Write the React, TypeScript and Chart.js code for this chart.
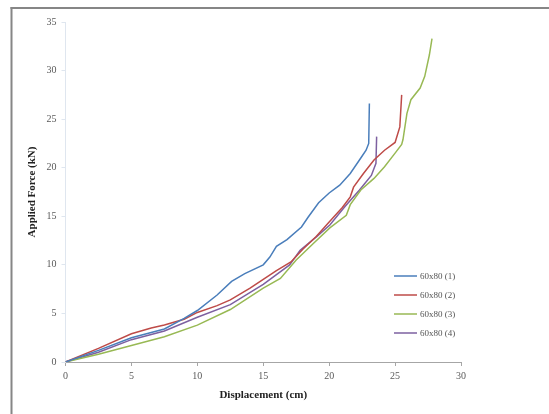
import React, { useEffect, useRef } from "react";
import { Chart, registerables } from "chart.js";

Chart.register(...registerables);

const seriesLabels = ["60x80 (1)", "60x80 (2)", "60x80 (3)", "60x80 (4)"];
const seriesColors = ["#4a7ebb", "#be4b48", "#98b954", "#7d60a0"];

const s1Disp = [0, 2.5, 5, 7.5, 9, 10, 11.5, 12.6, 13.6, 15, 15.5, 16, 16.8, 17.9, 18.4, 19.2, 20, 20.8, 21.6, 22.4, 22.8, 23.0, 23.05];
const s1Force = [0, 1.2, 2.5, 3.4, 4.5, 5.3, 6.9, 8.3, 9.1, 10.0, 10.8, 11.9, 12.6, 13.9, 14.9, 16.4, 17.4, 18.2, 19.4, 21.0, 21.8, 22.5, 26.6];

const s2Disp = [0, 2.5, 5, 6.5, 7.5, 9, 10, 11.5, 12.5, 14, 15, 16, 17.1, 18, 19, 20, 21, 21.6, 21.85, 22.6, 23.4, 24.2, 25.0, 25.36, 25.5];
const s2Force = [0, 1.4, 2.9, 3.5, 3.8, 4.4, 5.1, 5.8, 6.4, 7.6, 8.5, 9.4, 10.3, 11.6, 12.9, 14.4, 15.9, 17.0, 18.0, 19.4, 20.8, 21.8, 22.6, 24.2, 27.5];

const s3Disp = [0, 2.5, 5, 7.5, 10, 12.5, 15, 16.3, 17.5, 18.8, 20.05, 21.3, 21.6, 22.4, 23.4, 24.2, 25.0, 25.5, 25.6, 25.9, 26.2, 26.9, 27.25, 27.6, 27.8];
const s3Force = [0, 0.8, 1.7, 2.6, 3.8, 5.4, 7.6, 8.6, 10.5, 12.2, 13.8, 15.1, 16.2, 17.7, 18.9, 20.1, 21.5, 22.4, 22.9, 25.6, 27.0, 28.2, 29.4, 31.6, 33.3];

const s4Disp = [0, 2.5, 5, 7.5, 10, 12.5, 15, 17, 17.8, 19.05, 20.05, 21.2, 22.3, 23.2, 23.55, 23.6];
const s4Force = [0, 1.0, 2.3, 3.2, 4.6, 5.9, 8.0, 10.0, 11.5, 12.9, 14.1, 16.0, 17.7, 19.2, 20.45, 23.2];

const xTicksMax = 30;
const yTicksMax = 35;

const allDisp = [s1Disp, s2Disp, s3Disp, s4Disp];
const allForce = [s1Force, s2Force, s3Force, s4Force];

const framePlugin = {
  id: "frame",
  beforeDraw(chart: any) {
    const ctx = chart.ctx;
    ctx.save();
    ctx.fillStyle = "#ffffff";
    ctx.fillRect(0, 0, chart.width, chart.height);
    ctx.fillStyle = "#868686";
    ctx.fillRect(10.5, 7, 2, chart.height);
    ctx.fillRect(10.5, 7, chart.width, 2);
    ctx.restore();
  },
};

const legendPlugin = {
  id: "insideLegend",
  afterDraw(chart: any) {
    const ctx = chart.ctx;
    const area = chart.chartArea;
    const x0 = area.right - 67;
    const y0 = area.top + 254;
    const rowH = 19;
    ctx.save();
    ctx.font = "9px 'Liberation Serif', 'Times New Roman', serif";
    ctx.textBaseline = "middle";
    ctx.textAlign = "left";
    chart.data.datasets.forEach((ds: any, i: number) => {
      const y = y0 + i * rowH;
      ctx.strokeStyle = ds.borderColor;
      ctx.lineWidth = 1.5;
      ctx.beginPath();
      ctx.moveTo(x0, y);
      ctx.lineTo(x0 + 23, y);
      ctx.stroke();
      ctx.fillStyle = "#555555";
      ctx.fillText(ds.label, x0 + 26, y + 0.5);
    });
    ctx.restore();
  },
};

export default function App() {
  const ref = useRef<HTMLCanvasElement>(null);
  useEffect(() => {
    if (!ref.current) return;
    const datasets = seriesLabels.map((label, i) => ({
      label,
      data: allDisp[i].map((x, j) => ({ x, y: allForce[i][j] })),
      borderColor: seriesColors[i],
      backgroundColor: seriesColors[i],
      borderWidth: 1.5,
      pointRadius: 0,
      showLine: true,
      tension: 0,
      fill: false,
    }));
    const tickFont = { family: "'Liberation Serif', 'Times New Roman', serif", size: 10 };
    const titleFont = { family: "'Liberation Serif', 'Times New Roman', serif", size: 11, weight: "bold" as const };
    const chart = new Chart(ref.current, {
      type: "scatter",
      data: { datasets },
      plugins: [framePlugin, legendPlugin],
      options: {
        responsive: false,
        animation: false,
        layout: { padding: { left: 26, right: 88, top: 22, bottom: 12 } },
        plugins: { legend: { display: false }, tooltip: { enabled: false } },
        scales: {
          x: {
            type: "linear",
            min: 0,
            max: xTicksMax,
            ticks: { stepSize: 5, color: "#5a5a5a", font: tickFont, padding: 4 },
            grid: { drawOnChartArea: false, drawTicks: true, tickLength: 4, color: "#a6a6a6" },
            border: { display: true, color: "#a6a6a6", width: 1 },
            title: { display: true, text: "Displacement (cm)", color: "#222222", font: titleFont, padding: { top: 4, bottom: 0 } },
            afterFit(scale: any) {
              scale.height = 40;
            },
          },
          y: {
            type: "linear",
            min: 0,
            max: yTicksMax,
            ticks: { stepSize: 5, color: "#5a5a5a", font: tickFont, padding: 5 },
            grid: { drawOnChartArea: false, drawTicks: true, tickLength: 4, color: "#dfe6ef" },
            border: { display: true, color: "#dfe6ef", width: 1 },
            title: { display: true, text: "Applied Force (kN)", color: "#222222", font: titleFont, padding: { top: 0, bottom: 4 } },
            afterFit(scale: any) {
              scale.width = 39.5;
            },
          },
        },
      },
    });
    return () => chart.destroy();
  }, []);
  return (
    <div style={{ position: "absolute", left: 0, top: 0, width: 549, height: 414, overflow: "hidden", background: "#fff" }}>
      <canvas ref={ref} width={549} height={414} style={{ display: "block", width: 549, height: 414 }} />
    </div>
  );
}
